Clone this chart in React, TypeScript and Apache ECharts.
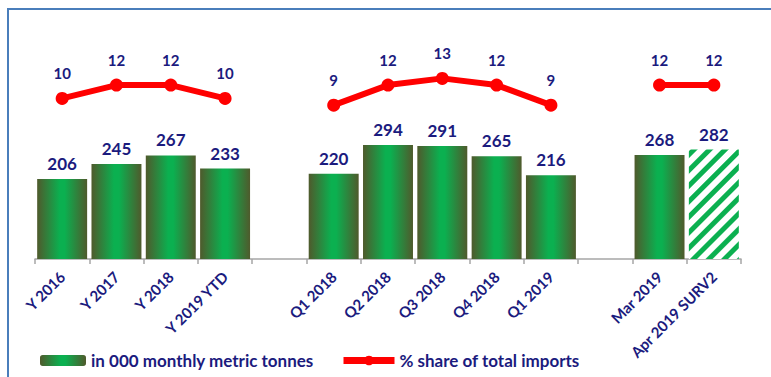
import React, { useEffect, useRef } from "react";
import * as echarts from "echarts";

const categories = ["Y 2016", "Y 2017", "Y 2018", "Y 2019 YTD", "", "Q1 2018", "Q2 2018", "Q3 2018", "Q4 2018", "Q1 2019", "", "Mar 2019", "Apr 2019 SURV2"];
const tonnes: (number | string)[] = [206, 245, 267, 233, "-", 220, 294, 291, 265, 216, "-", 268, 282];
const sharePct: (number | string)[] = [10, 12, 12, 10, "-", 9, 12, 13, 12, 9, "-", 12, 12];
const barName = "in 000 monthly metric tonnes";
const lineName = "% share of total imports";
const projectedIndex = 12;

const NAVY = "#1b1b7e";
const FONT = "Lato";

export default function App() {
  const ref = useRef<HTMLDivElement>(null);
  useEffect(() => {
    if (!ref.current) return;
    const chart = echarts.init(ref.current, null, { renderer: "svg" });
    const grad = new echarts.graphic.LinearGradient(0, 0, 1, 0, [
      { offset: 0, color: "#4f5a2c" },
      { offset: 0.45, color: "#0bb050" },
      { offset: 0.55, color: "#0bb050" },
      { offset: 1, color: "#4f5a2c" },
    ]);
    const barData = tonnes.map((v, i) =>
      i === projectedIndex
        ? {
            value: v,
            itemStyle: {
              color: "#ffffff",
              decal: {
                symbol: "rect",
                symbolSize: 1,
                dashArrayX: [1, 0],
                dashArrayY: [5, 6],
                rotation: -Math.PI / 4,
                color: "#0bb050",
              },
            },
          }
        : { value: v }
    );
    chart.setOption({
      animation: false,
      textStyle: { fontFamily: FONT },
      grid: { left: 35, right: 30, top: 65, bottom: 118 },
      graphic: [
        {
          type: "rect",
          shape: { x: 8, y: 9, width: 900, height: 500 },
          style: { fill: "none", stroke: "#4a7ebb", lineWidth: 2 },
          z: -1,
        },
      ],
      legend: [
        {
          data: [barName],
          left: 35,
          top: 347,
          itemWidth: 46,
          itemHeight: 11,
          itemGap: 5,
          textStyle: { color: NAVY, fontSize: 17, fontWeight: "bold", fontFamily: FONT },
        },
        {
          data: [lineName],
          left: 335,
          top: 347,
          itemWidth: 51,
          itemHeight: 12,
          lineStyle: { width: 7, color: "#ff0000" },
          itemStyle: { color: "#ff0000" },
          textStyle: { color: NAVY, fontSize: 17, fontWeight: "bold", fontFamily: FONT },
        },
      ],
      xAxis: {
        type: "category",
        data: categories,
        axisLine: { lineStyle: { color: "#a6a6a6", width: 1.5 } },
        axisTick: { show: true, length: 5, lineStyle: { color: "#a6a6a6", width: 1.5 } },
        axisLabel: {
          interval: 0,
          rotate: 45,
          margin: 15,
          color: NAVY,
          fontSize: 15,
          fontWeight: "bold",
          fontFamily: FONT,
        },
      },
      yAxis: [
        { type: "value", min: 0, max: 500, show: false, splitLine: { show: false } },
        { type: "value", min: -14, max: 15, show: false, splitLine: { show: false } },
      ],
      series: [
        {
          name: barName,
          type: "bar",
          data: barData,
          barCategoryGap: "8%",
          itemStyle: { color: grad },
          label: {
            show: true,
            position: "top",
            distance: 7,
            color: NAVY,
            fontSize: 17,
            fontWeight: "bold",
            fontFamily: FONT,
          },
        },
        {
          name: lineName,
          type: "line",
          yAxisIndex: 1,
          data: sharePct,
          connectNulls: false,
          symbol: "circle",
          symbolSize: 13,
          itemStyle: { color: "#ff0000" },
          lineStyle: { color: "#ff0000", width: 6 },
          label: {
            show: true,
            position: "top",
            distance: 11,
            color: NAVY,
            fontSize: 15,
            fontWeight: "bold",
            fontFamily: FONT,
          },
        },
      ],
    });
    return () => chart.dispose();
  }, []);
  return <div ref={ref} style={{ position: "fixed", left: 0, top: 0, width: 771, height: 377, background: "#fff" }} />;
}
